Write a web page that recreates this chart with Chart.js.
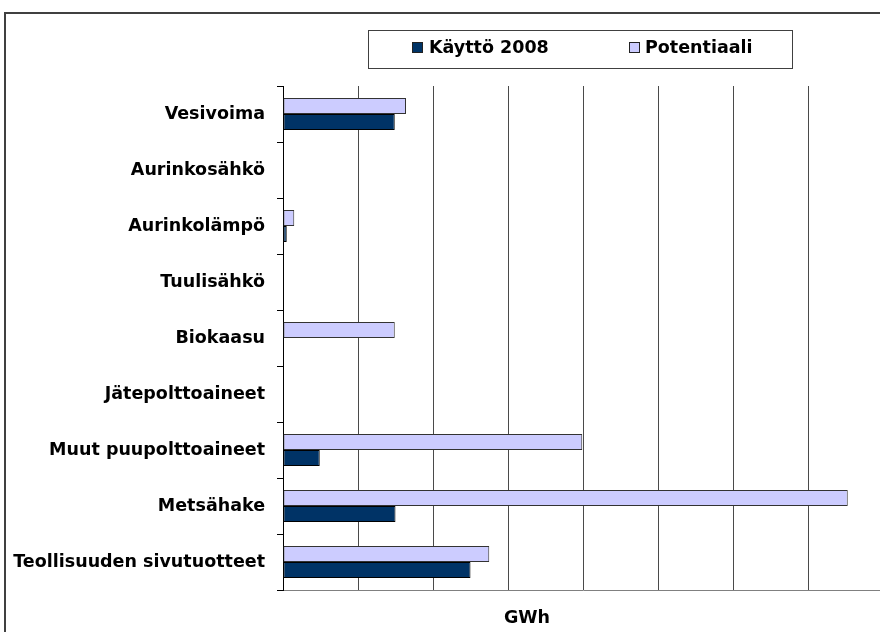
<!DOCTYPE html>
<html>
<head>
<meta charset="utf-8">
<script src="https://cdn.jsdelivr.net/npm/chart.js@4"></script>
<style>
    html, body { margin: 0; padding: 0; background: #fff; overflow: hidden; }
    #wrap { position: absolute; left: 0; top: 0; width: 960px; height: 632px; }
</style>
</head>
<body>
<div id="wrap"><canvas id="chart_energy" width="960" height="632"></canvas></div>
<script>
var categories = ['Vesivoima', 'Aurinkosähkö', 'Aurinkolämpö', 'Tuulisähkö', 'Biokaasu',
    'Jätepolttoaineet', 'Muut puupolttoaineet', 'Metsähake', 'Teollisuuden sivutuotteet'];
var kaytto2008 = [149, 0, 5, 0, 0, 0, 49, 150, 250];
var potentiaali = [164, 0, 15, 0, 149, 0, 399, 753, 275];
var seriesNames = ['Käyttö 2008', 'Potentiaali'];
var axisMax = 800;
var axisStep = 100;
var axisTitle = 'GWh';

var FONT = '"DejaVu Sans", sans-serif';

//frame around the whole chart, legend box and axis title
var decorations = {
    id: 'decorations',
    beforeDraw: function (chart) {
        var ctx = chart.ctx;
        ctx.save();
        ctx.strokeStyle = '#404040';
        ctx.lineWidth = 2;
        ctx.strokeRect(5, 13, 1200, 1200);
        ctx.restore();
    },
    afterDraw: function (chart) {
        var ctx = chart.ctx;
        var sets = chart.data.datasets;
        ctx.save();
        ctx.fillStyle = '#fff';
        ctx.fillRect(368, 30, 424, 38);
        ctx.strokeStyle = '#404040';
        ctx.lineWidth = 1;
        ctx.strokeRect(368.5, 30.5, 424, 38);

        ctx.font = 'bold 17.5px ' + FONT;
        ctx.textBaseline = 'middle';
        ctx.textAlign = 'left';
        var items = [
            { set: sets[1], box: 412, text: 429 },
            { set: sets[0], box: 629, text: 645 }
        ];
        items.forEach(function (it) {
            ctx.fillStyle = it.set.backgroundColor;
            ctx.fillRect(it.box, 42, 11, 11);
            ctx.strokeStyle = '#222';
            ctx.strokeRect(it.box + 0.5, 42.5, 10, 10);
            ctx.fillStyle = '#000';
            ctx.fillText(it.set.label, it.text, 48);
        });

        ctx.textAlign = 'center';
        ctx.fillText(axisTitle, 527, 618);
        ctx.restore();
    }
};

new Chart(document.getElementById('chart_energy'), {
    type: 'bar',
    data: {
        labels: categories,
        datasets: [{
            label: seriesNames[1],
            data: potentiaali,
            backgroundColor: '#CCCCFF',
            borderColor: '#333',
            borderWidth: 1,
            borderSkipped: false,
            categoryPercentage: 0.571,
            barPercentage: 1.0
        }, {
            label: seriesNames[0],
            data: kaytto2008,
            backgroundColor: '#003366',
            borderColor: '#000',
            borderWidth: 1,
            borderSkipped: false,
            categoryPercentage: 0.571,
            barPercentage: 1.0
        }]
    },
    options: {
        indexAxis: 'y',
        responsive: false,
        animation: false,
        layout: {
            padding: { top: 86, left: 0, right: 77, bottom: 42 }
        },
        plugins: {
            legend: { display: false },
            tooltip: { enabled: false }
        },
        scales: {
            x: {
                min: 0,
                max: axisMax,
                ticks: { display: false, stepSize: axisStep },
                grid: {
                    color: '#4a4a4a',
                    lineWidth: 1,
                    drawTicks: false
                },
                border: { display: true, color: '#808080', width: 1 },
                afterFit: function (scale) { scale.height = 0; }
            },
            y: {
                offset: true,
                grid: {
                    offset: true,
                    drawOnChartArea: false,
                    drawTicks: true,
                    tickLength: 6,
                    color: '#000'
                },
                border: { display: true, color: '#000', width: 1 },
                ticks: {
                    color: '#000',
                    padding: 12,
                    autoSkip: false,
                    font: { family: FONT, size: 17.5, weight: 'bold' }
                },
                afterFit: function (scale) { scale.width = 283; }
            }
        }
    },
    plugins: [decorations]
});
</script>
</body>
</html>
